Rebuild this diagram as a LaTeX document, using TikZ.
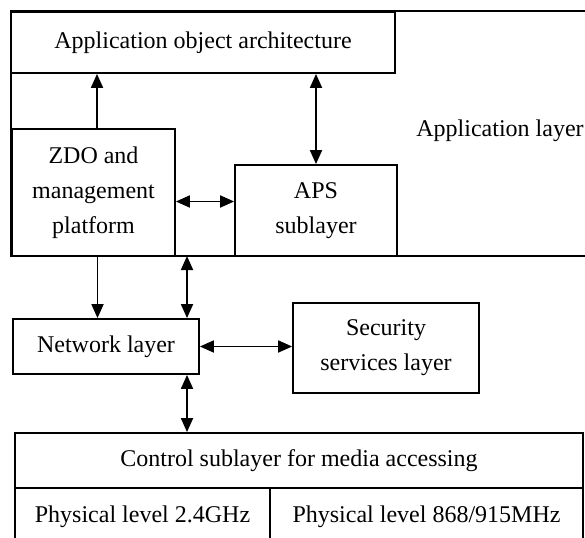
\documentclass[tikz,border=0pt]{standalone}
\usepackage{fontspec}
\setmainfont{Liberation Serif}
\usetikzlibrary{arrows.meta,calc}
\begin{document}
\begin{tikzpicture}[x=1pt,y=-1pt,
  box/.style={draw,line width=1.8pt,rectangle,inner sep=0pt,align=center,
    font=\fontsize{24}{35}\selectfont},
  lbl/.style={inner sep=0pt,font=\fontsize{24}{35}\selectfont},
  arr/.style={line width=1.8pt,-{Triangle[length=14pt,width=12pt]}},
  darr/.style={line width=1.8pt,{Triangle[length=14pt,width=12pt]}-{Triangle[length=14pt,width=12pt]}}]
\useasboundingbox (0,0) rectangle (585,537);
% application layer frame
\draw[line width=1.8pt] (620,11) -- (11,11) -- (11,256) -- (620,256);
\node[lbl] (applayer) at (500,131) {Application layer};
\node[box,minimum width=384pt,minimum height=61pt] (aoa) at (203,42.5) {Application object architecture};
\node[box,fill=white,minimum width=163pt,minimum height=127pt] (zdo) at (93.5,192.5) {ZDO and\\management\\platform};
\node[box,fill=white,minimum width=162pt,minimum height=91pt] (aps) at (316,210.5) {APS\\sublayer};
\node[box,minimum width=186pt,minimum height=55pt] (net) at (106,346.5) {Network layer};
\node[box,minimum width=186pt,minimum height=90pt] (sec) at (386,348) {Security\\services layer};
\node[box,minimum width=568pt,minimum height=55pt] (ctrl) at (299,460.5) {Control sublayer for media accessing};
\node[box,minimum width=255pt,minimum height=57pt] (phy1) at (142.5,516.5) {Physical level 2.4GHz};
\node[box,minimum width=313pt,minimum height=57pt] (phy2) at (426.5,516.5) {Physical level 868/915MHz};
\coordinate (c1) at (187,256);
% connectors
\draw[arr] ([xshift=3.5pt]zdo.north) -- ([xshift=3.5pt]zdo.north |- aoa.south);
\draw[darr] (aps.north) -- (aps.north |- aoa.south);
\draw[darr] ([yshift=-9pt]zdo.east) -- ([yshift=-9pt]zdo.east -| aps.west);
\draw[arr] ([xshift=4pt]zdo.south) -- ([xshift=4pt]zdo.south |- net.north);
\draw[darr] (c1) -- (c1 |- net.north);
\draw[darr] (net.east) -- (net.east -| sec.west);
\draw[darr] (c1 |- net.south) -- (c1 |- ctrl.north);
\end{tikzpicture}
\end{document}
